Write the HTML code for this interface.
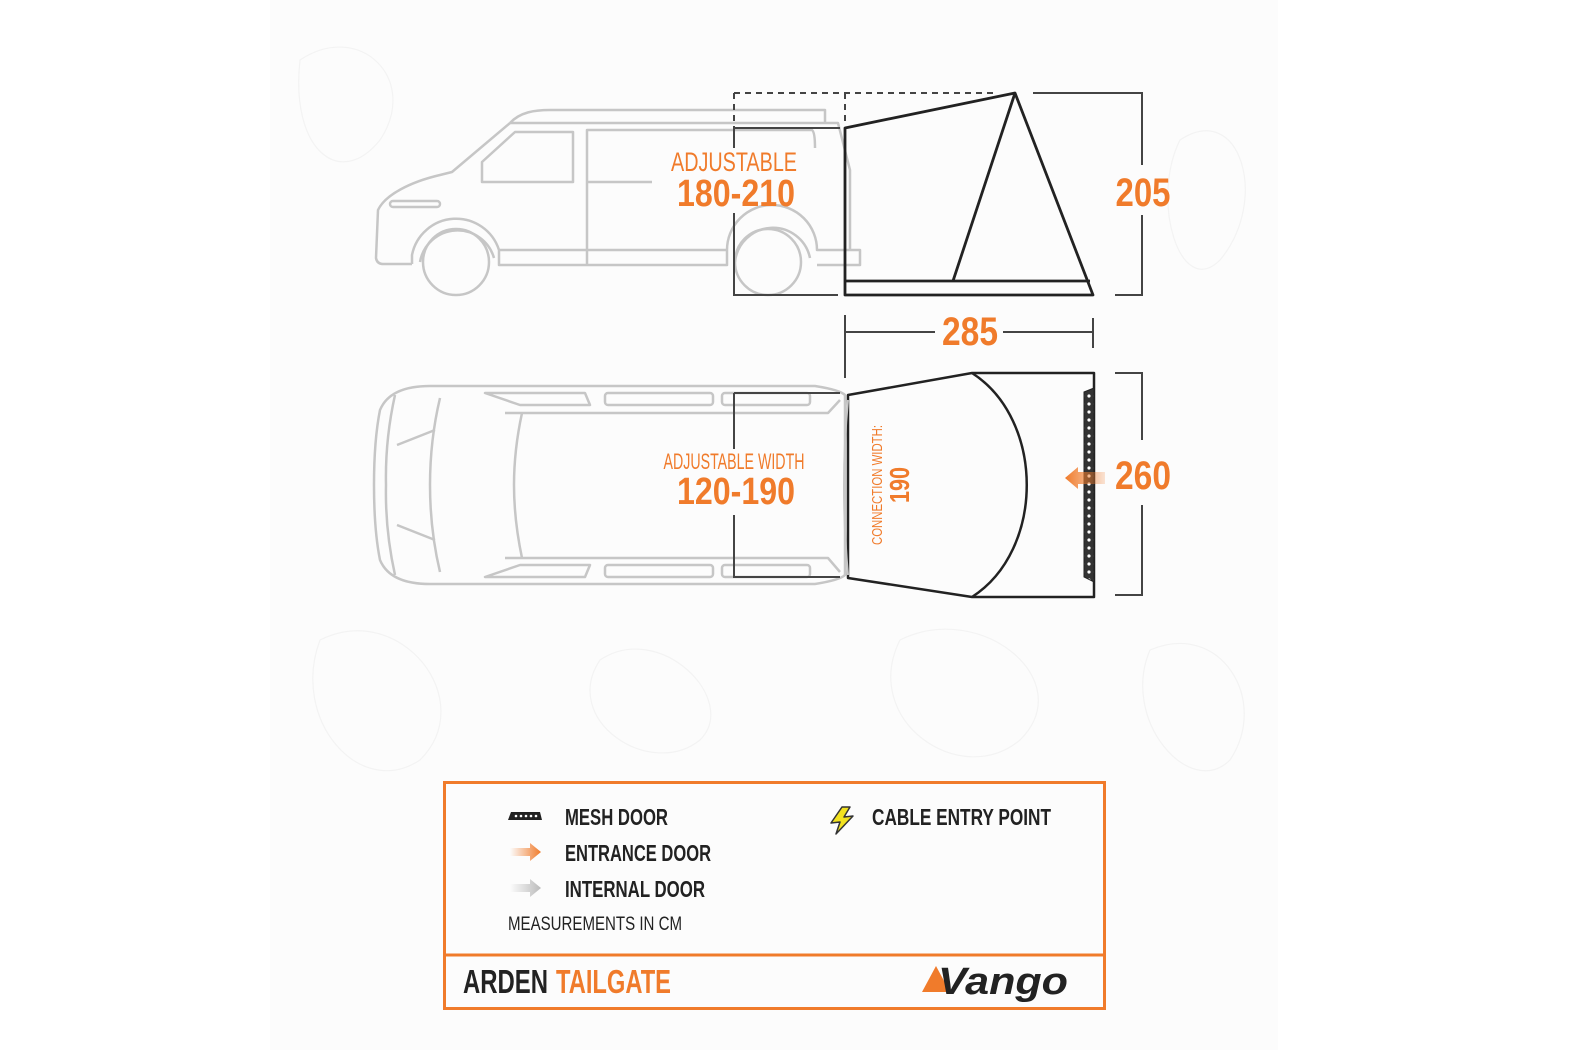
<!DOCTYPE html>
<html><head><meta charset="utf-8"><style>
html,body{margin:0;padding:0;background:#fff}
svg{display:block}
text{font-family:"Liberation Sans Narrow","Liberation Sans",sans-serif;}
</style></head><body>
<svg width="1575" height="1050" viewBox="0 0 1575 1050" xmlns="http://www.w3.org/2000/svg">
<defs>
<linearGradient id="og" x1="0" x2="1"><stop offset="0" stop-color="#f07b2b" stop-opacity="0"/><stop offset="1" stop-color="#f07b2b"/></linearGradient>
<linearGradient id="gg" x1="0" x2="1"><stop offset="0" stop-color="#bbb" stop-opacity="0"/><stop offset="1" stop-color="#bbb"/></linearGradient>
<linearGradient id="og2" x1="0" x2="1"><stop offset="0" stop-color="#f07b2b"/><stop offset="1" stop-color="#f07b2b" stop-opacity="0.2"/></linearGradient>
<pattern id="mesh" width="6" height="8" patternUnits="userSpaceOnUse"><rect width="6" height="8" fill="#333"/><circle cx="3" cy="4" r="1.6" fill="#fff"/></pattern>
</defs>
<rect x="270" y="0" width="1008" height="1050" fill="#fcfcfc"/>
<g fill="none" stroke="#f3f3f3" stroke-width="1.2">
<path d="M300 60 C360 20 420 80 380 140 C340 190 290 150 300 60Z"/>
<path d="M1180 140 C1240 100 1270 200 1220 260 C1180 300 1150 200 1180 140Z"/>
<path d="M320 640 C400 600 480 700 420 760 C360 800 290 720 320 640Z"/>
<path d="M900 640 C980 600 1080 680 1020 740 C960 790 860 720 900 640Z"/>
<path d="M600 660 C660 620 740 700 700 740 C650 780 560 720 600 660Z"/>
<path d="M1150 650 C1220 620 1270 700 1230 760 C1190 800 1120 720 1150 650Z"/>
</g>
<!-- side view van -->
<g fill="none" stroke="#c6c6c6" stroke-width="2.5" stroke-linejoin="round">
<path d="M510 123 C520 112 535 110 550 110 L825 110 L825 123"/>
<path d="M510 123 L838 123 L850 170 L850 250"/>
<path d="M510 123 L452 172 L440 175 C410 182 385 195 378 210 L376 258 Q377 264 383 264 L412 264"/>
<path d="M412 264 L412 255 A45 45 0 0 1 499 250 L499 265 L727 265 L727 250 A45 45 0 0 1 817 250 L860 250 L860 265 L817 265"/>
<path d="M420 262 A38 38 0 0 1 494 258"/>
<path d="M735 262 A38 38 0 0 1 810 258"/>
<circle cx="456" cy="262" r="33"/>
<circle cx="768" cy="262" r="33"/>
<path d="M499 250 L727 250"/>
<path d="M482 162 L482 182 L573 182 L573 132 L515 132 Z"/>
<path d="M587 265 L587 130 L812 130 Q815 132 815 148"/>
<path d="M587 182 L652 182"/>
<rect x="390" y="201" width="50" height="6" rx="3"/>
</g>
<!-- top view van -->
<g fill="none" stroke="#c6c6c6" stroke-width="2.5" stroke-linejoin="round">
<path d="M430 386 L815 386 Q840 390 845 395 L845 575 Q840 580 815 584 L430 584 Q390 584 380 560 Q374 530 374 485 Q374 440 380 410 Q390 386 430 386Z"/>
<path d="M395 395 Q385 440 386 485 Q385 530 395 575"/>
<path d="M440 398 Q430 440 430 485 Q430 530 440 572"/>
<path d="M522 413 Q514 450 514 485 Q514 520 522 558"/>
<path d="M505 413 L828 413 L840 400"/>
<path d="M505 558 L828 558 L840 572"/>
<path d="M485 393 L585 393 L590 405 L520 405Z"/>
<path d="M485 577 L585 577 L590 565 L520 565Z"/>
<rect x="605" y="393" width="108" height="12" rx="3"/>
<rect x="605" y="565" width="108" height="12" rx="3"/>
<rect x="722" y="393" width="88" height="12" rx="3"/>
<rect x="722" y="565" width="88" height="12" rx="3"/>
<path d="M397 445 L435 430 M397 525 L435 540"/>
</g>
<!-- dims dark -->
<g fill="none" stroke="#444" stroke-width="2">
<path d="M734 93 L993 93 M734 93 L734 128 M845 93 L845 125" stroke-dasharray="6 5"/>
<path d="M734 128 L840 128 M734 128 L734 148 M734 213 L734 295 L838 295"/>
<path d="M1033 93 L1142 93 L1142 165 M1142 215 L1142 295 L1115 295"/>
<path d="M845 315 L845 378 M1093 318 L1093 348 M845 332 L935 332 M1003 332 L1093 332"/>
<path d="M1115 373 L1142 373 L1142 440 M1142 505 L1142 595 L1115 595"/>
<path d="M734 393 L840 393 M734 393 L734 449 M734 515 L734 577 L840 577"/>
</g>
<!-- side tent -->
<g fill="none" stroke="#222" stroke-width="2.8" stroke-linejoin="round">
<path d="M845 128 L1015 93 L1093 295 L845 295 Z"/>
<path d="M1015 93 L953 281 M845 281 L1090 281"/>
</g>
<!-- top tent -->
<g fill="none" stroke="#222" stroke-width="2.5" stroke-linejoin="round">
<path d="M848 395 L972 373 L1094 373 L1094 597 L972 597 L848 578 Z"/>
<path d="M972 373 C1045 420 1045 550 972 597"/>
</g>
<path d="M848 400 Q840 485 848 575" fill="none" stroke="#c6c6c6" stroke-width="2"/>
<path d="M1084 392 L1094 388 L1094 582 L1084 577Z" fill="url(#mesh)" stroke="#222" stroke-width="1"/>
<path d="M1078 467 L1078 472 L1105 472 L1105 484 L1078 484 L1078 489 L1065 478Z" fill="url(#og2)"/>
<!-- labels -->
<text x="734" y="171" fill="#f07b2b" font-size="27" text-anchor="middle" textLength="126" lengthAdjust="spacingAndGlyphs">ADJUSTABLE</text>
<text x="736" y="206" fill="#f07b2b" font-size="38" font-weight="bold" text-anchor="middle" textLength="118" lengthAdjust="spacingAndGlyphs">180-210</text>
<text x="1143" y="206" fill="#f07b2b" font-size="40" font-weight="bold" text-anchor="middle" textLength="55" lengthAdjust="spacingAndGlyphs">205</text>
<text x="970" y="345" fill="#f07b2b" font-size="40" font-weight="bold" text-anchor="middle" textLength="56" lengthAdjust="spacingAndGlyphs">285</text>
<text x="734" y="469" fill="#f07b2b" font-size="22" text-anchor="middle" textLength="141" lengthAdjust="spacingAndGlyphs">ADJUSTABLE WIDTH</text>
<text x="736" y="504" fill="#f07b2b" font-size="38" font-weight="bold" text-anchor="middle" textLength="118" lengthAdjust="spacingAndGlyphs">120-190</text>
<text x="1143" y="489" fill="#f07b2b" font-size="40" font-weight="bold" text-anchor="middle" textLength="56" lengthAdjust="spacingAndGlyphs">260</text>
<text transform="translate(882 485) rotate(-90)" fill="#f07b2b" font-size="15" text-anchor="middle" textLength="120" lengthAdjust="spacingAndGlyphs">CONNECTION WIDTH:</text>
<text transform="translate(909 485) rotate(-90)" fill="#f07b2b" font-size="28" font-weight="bold" text-anchor="middle" textLength="36" lengthAdjust="spacingAndGlyphs">190</text>
<!-- legend -->
<rect x="444.5" y="782.5" width="660" height="226" fill="none" stroke="#f07b2b" stroke-width="3"/>
<line x1="444" y1="955" x2="1105" y2="955" stroke="#f07b2b" stroke-width="3"/>
<path d="M508 820 L511 812 L540 812 L542 820Z" fill="#222"/>
<g fill="#fff"><circle cx="516" cy="816" r="1.3"/><circle cx="521" cy="816" r="1.3"/><circle cx="526" cy="816" r="1.3"/><circle cx="531" cy="816" r="1.3"/><circle cx="536" cy="816" r="1.3"/></g>
<path d="M510 848 L530 848 L530 843 L541 852 L530 861 L530 856 L510 856Z" fill="url(#og)"/>
<path d="M510 884 L530 884 L530 879 L541 888 L530 897 L530 892 L510 892Z" fill="url(#gg)"/>
<path d="M842 807 L831 823 L840 822 L836 834 L853 816 L844 817 L850 807Z" fill="#f2e21f" stroke="#333" stroke-width="1.5" stroke-linejoin="round"/>
<g fill="#222" font-size="23" font-weight="bold">
<text x="565" y="825" textLength="103" lengthAdjust="spacingAndGlyphs">MESH DOOR</text>
<text x="565" y="861" textLength="146" lengthAdjust="spacingAndGlyphs">ENTRANCE DOOR</text>
<text x="565" y="897" textLength="140" lengthAdjust="spacingAndGlyphs">INTERNAL DOOR</text>
<text x="872" y="825" textLength="179" lengthAdjust="spacingAndGlyphs">CABLE ENTRY POINT</text>
</g>
<text x="508" y="930" fill="#222" font-size="19" textLength="174" lengthAdjust="spacingAndGlyphs">MEASUREMENTS IN CM</text>
<text x="463" y="993" fill="#222" font-size="33" font-weight="bold" textLength="85" lengthAdjust="spacingAndGlyphs">ARDEN</text>
<text x="556" y="993" fill="#f07b2b" font-size="33" font-weight="bold" textLength="115" lengthAdjust="spacingAndGlyphs">TAILGATE</text>
<path d="M922 992 L936 966 L950 992Z" fill="#f07b2b"/>
<text x="938" y="994" fill="#222" font-size="38" font-weight="bold" font-style="italic" font-family="Liberation Sans, sans-serif" textLength="130" lengthAdjust="spacingAndGlyphs">Vango</text>
</svg>
</body></html>
